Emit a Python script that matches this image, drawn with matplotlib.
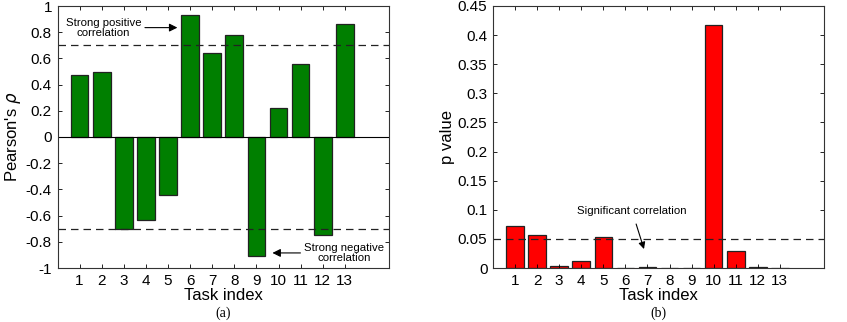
import matplotlib
matplotlib.use('Agg')
import matplotlib.pyplot as plt

# data
tasks = list(range(1, 14))
pearson_rho = [0.47, 0.50, -0.70, -0.63, -0.44, 0.93, 0.64, 0.78, -0.91, 0.22, 0.56, -0.75, 0.86]
p_values = [0.072, 0.056, 0.004, 0.012, 0.054, 0.0, 0.0017, 0.0005, 0.0, 0.417, 0.030, 0.0017, 0.0]
strong_thr = 0.7
signif_thr = 0.05

plt.rcParams['font.family'] = ['Liberation Sans', 'DejaVu Sans']
plt.rcParams['axes.linewidth'] = 0.8

fig = plt.figure(figsize=(8.47, 3.22), dpi=100)
W, H = 847.0, 322.0
ax1 = fig.add_axes([57.5/W, 1-268/H, 331.5/W, 262/H])
ax2 = fig.add_axes([493/W, 1-268/H, 331/W, 262/H])

for ax in (ax1, ax2):
    ax.set_xlim(0, 15)
    ax.set_xticks(tasks)
    ax.tick_params(direction='in', top=True, right=True, labelsize=11, length=3, width=0.6, pad=4)
    for s in ax.spines.values():
        s.set_color('#333333')
    ax.set_xlabel('Task index', fontsize=12, labelpad=0)

# (a) Pearson's rho
ax1.bar(tasks, pearson_rho, width=0.8, color='#007f00', edgecolor='#222222', linewidth=0.9)
ax1.axhline(0, color='black', linewidth=0.8)
ax1.axhline(strong_thr, color='#222222', linestyle=(0, (6, 4)), linewidth=0.9)
ax1.axhline(-strong_thr, color='#222222', linestyle=(0, (6, 4)), linewidth=0.9)
ax1.set_ylim(-1, 1)
ax1.set_yticks([-1, -0.8, -0.6, -0.4, -0.2, 0, 0.2, 0.4, 0.6, 0.8, 1])
ax1.set_yticklabels(['-1', '-0.8', '-0.6', '-0.4', '-0.2', '0', '0.2', '0.4', '0.6', '0.8', '1'])
ax1.set_ylabel("Pearson's $\\rho$", fontsize=12, labelpad=2)
ax1.annotate('Strong positive\ncorrelation', xy=(5.55, 0.835), xytext=(3.8, 0.835),
             ha='right', va='center', multialignment='center', fontsize=8.2, linespacing=1.0,
             bbox=dict(facecolor='white', edgecolor='none', pad=0.5),
             arrowprops=dict(arrowstyle='-|>', color='black', lw=0.8, mutation_scale=12))
ax1.annotate('Strong negative\ncorrelation', xy=(9.6, -0.885), xytext=(11.15, -0.885),
             ha='left', va='center', multialignment='center', fontsize=8.2, linespacing=1.0,
             bbox=dict(facecolor='white', edgecolor='none', pad=0.5),
             arrowprops=dict(arrowstyle='-|>', color='black', lw=0.8, mutation_scale=12))
ax1.text(0.5, -0.172, '(a)', transform=ax1.transAxes, ha='center', va='center',
         fontsize=10, family=['Liberation Serif', 'DejaVu Serif'])

# (b) p value
ax2.bar(tasks, p_values, width=0.8, color='#ff0000', edgecolor='#222222', linewidth=0.9)
ax2.axhline(signif_thr, color='#222222', linestyle=(0, (6, 4)), linewidth=0.9)
ax2.set_ylim(0, 0.45)
ax2.set_yticks([0, 0.05, 0.1, 0.15, 0.2, 0.25, 0.3, 0.35, 0.4, 0.45])
ax2.set_yticklabels(['0', '0.05', '0.1', '0.15', '0.2', '0.25', '0.3', '0.35', '0.4', '0.45'])
ax2.set_ylabel('p value', fontsize=12, labelpad=2)
ax2.annotate('Significant correlation', xy=(6.88, 0.028), xytext=(6.3, 0.098),
             ha='center', va='center', fontsize=8.2,
             arrowprops=dict(arrowstyle='-|>', color='black', lw=0.8, mutation_scale=10,
                             shrinkA=4))
ax2.text(0.5, -0.172, '(b)', transform=ax2.transAxes, ha='center', va='center',
         fontsize=10, family=['Liberation Serif', 'DejaVu Serif'])

fig.savefig('out.png', dpi=100)
